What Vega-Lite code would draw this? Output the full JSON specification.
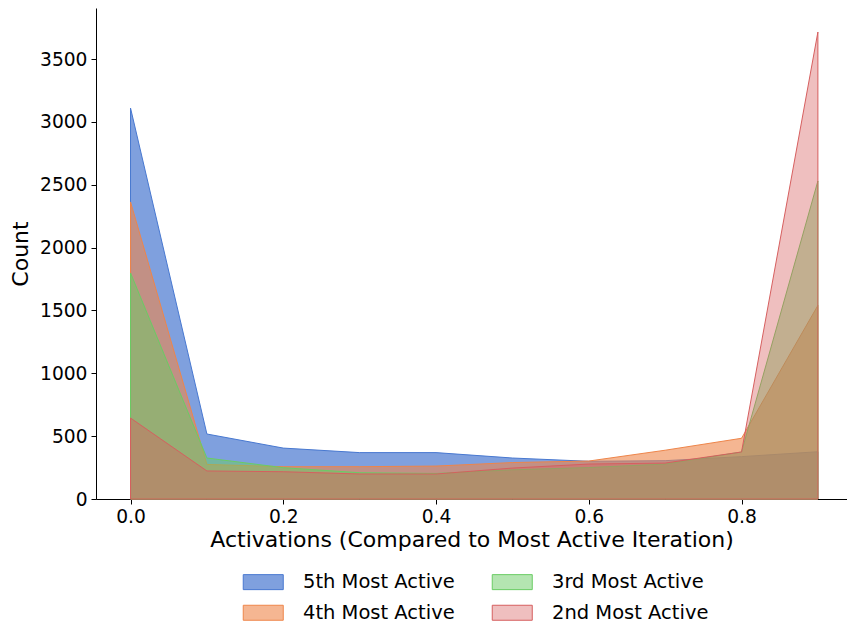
{
  "$schema": "https://vega.github.io/schema/vega-lite/v6.json",
  "width": 751,
  "height": 491,
  "autosize": {"type": "none"},
  "padding": {"left": 96, "top": 8, "right": 0, "bottom": 126},
  "background": "white",
  "config": {
    "view": {"stroke": null},
    "font": "DejaVu Sans",
    "axis": {
      "grid": false,
      "domainColor": "black",
      "domainWidth": 1,
      "tickColor": "black",
      "tickWidth": 1,
      "tickSize": 5,
      "labelColor": "black",
      "labelFont": "DejaVu Sans",
      "labelFontSize": 18.67,
      "titleFont": "DejaVu Sans",
      "titleFontSize": 22,
      "titleFontWeight": "normal",
      "titleColor": "black"
    },
    "legend": {
      "labelFont": "DejaVu Sans",
      "labelFontSize": 19.5,
      "labelColor": "black"
    }
  },
  "data": {
    "values": [
      {"x": 0.0, "count": 3110, "series": "5th Most Active"},
      {"x": 0.1, "count": 517, "series": "5th Most Active"},
      {"x": 0.2, "count": 405, "series": "5th Most Active"},
      {"x": 0.3, "count": 369, "series": "5th Most Active"},
      {"x": 0.4, "count": 369, "series": "5th Most Active"},
      {"x": 0.5, "count": 326, "series": "5th Most Active"},
      {"x": 0.6, "count": 300, "series": "5th Most Active"},
      {"x": 0.7, "count": 305, "series": "5th Most Active"},
      {"x": 0.8, "count": 337, "series": "5th Most Active"},
      {"x": 0.9, "count": 376, "series": "5th Most Active"},
      {"x": 0.0, "count": 2363, "series": "4th Most Active"},
      {"x": 0.1, "count": 275, "series": "4th Most Active"},
      {"x": 0.2, "count": 257, "series": "4th Most Active"},
      {"x": 0.3, "count": 257, "series": "4th Most Active"},
      {"x": 0.4, "count": 262, "series": "4th Most Active"},
      {"x": 0.5, "count": 290, "series": "4th Most Active"},
      {"x": 0.6, "count": 302, "series": "4th Most Active"},
      {"x": 0.7, "count": 388, "series": "4th Most Active"},
      {"x": 0.8, "count": 483, "series": "4th Most Active"},
      {"x": 0.9, "count": 1540, "series": "4th Most Active"},
      {"x": 0.0, "count": 1798, "series": "3rd Most Active"},
      {"x": 0.1, "count": 326, "series": "3rd Most Active"},
      {"x": 0.2, "count": 249, "series": "3rd Most Active"},
      {"x": 0.3, "count": 209, "series": "3rd Most Active"},
      {"x": 0.4, "count": 203, "series": "3rd Most Active"},
      {"x": 0.5, "count": 232, "series": "3rd Most Active"},
      {"x": 0.6, "count": 250, "series": "3rd Most Active"},
      {"x": 0.7, "count": 278, "series": "3rd Most Active"},
      {"x": 0.8, "count": 374, "series": "3rd Most Active"},
      {"x": 0.9, "count": 2530, "series": "3rd Most Active"},
      {"x": 0.0, "count": 644, "series": "2nd Most Active"},
      {"x": 0.1, "count": 223, "series": "2nd Most Active"},
      {"x": 0.2, "count": 217, "series": "2nd Most Active"},
      {"x": 0.3, "count": 199, "series": "2nd Most Active"},
      {"x": 0.4, "count": 199, "series": "2nd Most Active"},
      {"x": 0.5, "count": 246, "series": "2nd Most Active"},
      {"x": 0.6, "count": 278, "series": "2nd Most Active"},
      {"x": 0.7, "count": 286, "series": "2nd Most Active"},
      {"x": 0.8, "count": 374, "series": "2nd Most Active"},
      {"x": 0.9, "count": 3715, "series": "2nd Most Active"}
    ]
  },
  "encoding": {
    "x": {
      "field": "x",
      "type": "quantitative",
      "scale": {"domain": [-0.0452, 0.9381], "nice": false, "zero": false},
      "axis": {
        "values": [0, 0.2, 0.4, 0.6, 0.8],
        "format": ".1f",
        "title": "Activations (Compared to Most Active Iteration)",
        "labelPadding": 3,
        "titlePadding": 4
      }
    },
    "y": {
      "field": "count",
      "type": "quantitative",
      "stack": null,
      "scale": {"domain": [0, 3906], "nice": false},
      "axis": {
        "values": [0, 500, 1000, 1500, 2000, 2500, 3000, 3500],
        "format": "d",
        "title": "Count",
        "labelPadding": 4,
        "titlePadding": 7
      }
    },
    "color": {
      "field": "series",
      "type": "nominal",
      "scale": {
        "domain": ["5th Most Active", "4th Most Active", "3rd Most Active", "2nd Most Active"],
        "range": ["#4878d0", "#ee854a", "#6acc64", "#d65f5f"]
      },
      "legend": {
        "title": null,
        "orient": "none",
        "legendX": 157.5,
        "legendY": 564,
        "columns": 2,
        "columnPadding": 34,
        "rowPadding": 10,
        "padding": 0,
        "labelOffset": 30,
        "symbolType": "M-2.667,-1H2.667V1H-2.667Z",
        "symbolSize": 225,
        "symbolStrokeWidth": 1,
        "encode": {
          "symbols": {
            "update": {
              "fillOpacity": {"signal": "datum.value == '5th Most Active' ? 0.7 : datum.value == '4th Most Active' ? 0.6 : datum.value == '3rd Most Active' ? 0.5 : 0.4"},
              "strokeOpacity": {"value": 1}
            }
          }
        }
      }
    },
    "stroke": {
      "field": "series",
      "type": "nominal",
      "scale": {
        "domain": ["5th Most Active", "4th Most Active", "3rd Most Active", "2nd Most Active"],
        "range": ["#4878d0", "#ee854a", "#6acc64", "#d65f5f"]
      }
    }
  },
  "layer": [
    {
      "transform": [{"filter": "datum.series == '5th Most Active'"}],
      "mark": {"type": "area", "strokeWidth": 1, "fillOpacity": 0.7, "interpolate": "linear"}
    },
    {
      "transform": [{"filter": "datum.series == '4th Most Active'"}],
      "mark": {"type": "area", "strokeWidth": 1, "fillOpacity": 0.6, "interpolate": "linear"}
    },
    {
      "transform": [{"filter": "datum.series == '3rd Most Active'"}],
      "mark": {"type": "area", "strokeWidth": 1, "fillOpacity": 0.5, "interpolate": "linear"}
    },
    {
      "transform": [{"filter": "datum.series == '2nd Most Active'"}],
      "mark": {"type": "area", "strokeWidth": 1, "fillOpacity": 0.4, "interpolate": "linear"}
    }
  ]
}
